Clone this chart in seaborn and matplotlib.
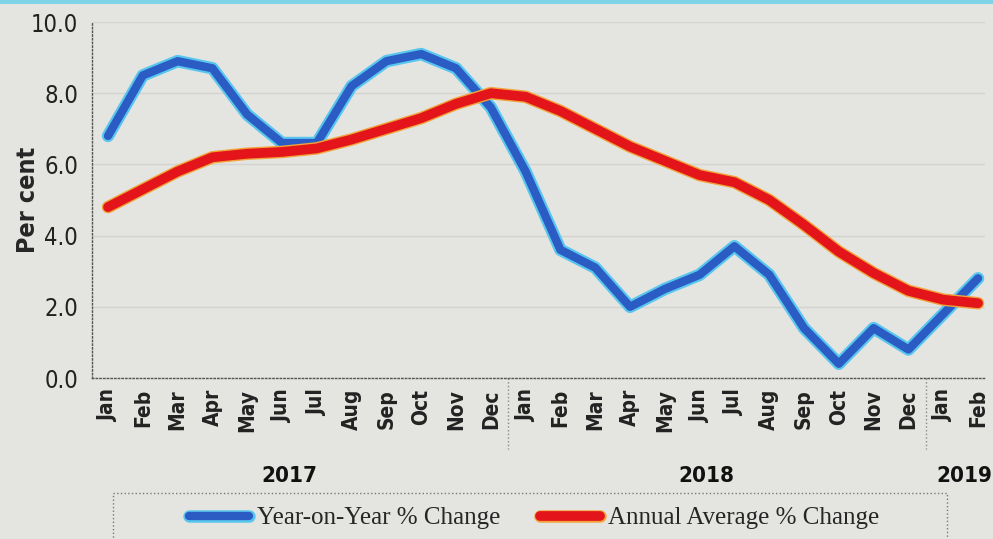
import numpy as np
import pandas as pd
import seaborn as sns
import matplotlib.pyplot as plt
import matplotlib.patheffects as pe
from matplotlib.patches import Rectangle

months = ["Jan", "Feb", "Mar", "Apr", "May", "Jun", "Jul", "Aug", "Sep", "Oct", "Nov", "Dec",
          "Jan", "Feb", "Mar", "Apr", "May", "Jun", "Jul", "Aug", "Sep", "Oct", "Nov", "Dec",
          "Jan", "Feb"]
years = ["2017", "2018", "2019"]
yoy = [6.8, 8.5, 8.9, 8.7, 7.4, 6.6, 6.6, 8.2, 8.9, 9.1, 8.7, 7.6,
       5.8, 3.6, 3.1, 2.0, 2.5, 2.9, 3.7, 2.9, 1.4, 0.4, 1.4, 0.8,
       1.8, 2.8]
annual = [4.8, 5.3, 5.8, 6.2, 6.3, 6.35, 6.45, 6.7, 7.0, 7.3, 7.7, 8.0,
          7.9, 7.5, 7.0, 6.5, 6.1, 5.7, 5.5, 5.0, 4.3, 3.55, 2.95, 2.45,
          2.2, 2.1]

df = pd.DataFrame({"idx": np.arange(len(months)), "yoy": yoy, "annual": annual})

bg = "#e4e4e0"
sns.set_style("white")
plt.rcParams["font.family"] = ["DejaVu Sans"]
plt.rcParams["font.stretch"] = "condensed"

fig = plt.figure(figsize=(9.93, 5.39), dpi=100, facecolor=bg)
ax = fig.add_axes([92 / 993, 1 - 378 / 539, (985 - 92) / 993, (378 - 22) / 539])
ax.set_facecolor(bg)

blue_fx = [pe.Stroke(linewidth=9, foreground="#58c6ee"), pe.Normal()]
red_fx = [pe.Stroke(linewidth=9, foreground="#f2a33a"), pe.Normal()]
sns.lineplot(data=df, x="idx", y="yoy", ax=ax, color="#2a5cc4", lw=6, path_effects=blue_fx)
sns.lineplot(data=df, x="idx", y="annual", ax=ax, color="#e3141a", lw=7, path_effects=red_fx)

ax.set_xlim(-0.46, 25.2)
ax.set_ylim(0, 10)
ax.set_yticks(np.arange(0, 10.1, 2))
ax.set_yticklabels([f"{v:.1f}" for v in np.arange(0, 10.1, 2)], fontsize=17, color="#222222",
                   fontstretch="condensed")
ax.yaxis.grid(True, color="#d3d3cf", lw=1)
ax.set_axisbelow(True)
ax.set_xticks(df["idx"])
ax.set_xticklabels(months, rotation=90, fontsize=15, fontweight="bold", color="#222222",
                   fontstretch="condensed")
ax.tick_params(axis="x", length=0, pad=8)
ax.tick_params(axis="y", length=0, pad=10)
ax.set_xlabel("")
ax.set_ylabel("Per cent", fontsize=18, fontweight="bold", fontstretch="condensed")
ax.yaxis.set_label_coords(-0.058, 0.5)

for s in ["top", "right"]:
    ax.spines[s].set_visible(False)
for s in ["left", "bottom"]:
    ax.spines[s].set_linestyle(":")
    ax.spines[s].set_color("#555555")
    ax.spines[s].set_linewidth(1)

# year separators and labels
for xs in [11.5, 23.5]:
    ax.plot([xs, xs], [0, -2.0], color="#888888", lw=1, ls=":", clip_on=False)
for label, xc in zip(years, [5.2, 17.2, 24.6]):
    ax.text(xc, -2.75, label, ha="center", va="center", fontsize=16, fontweight="bold",
            color="#111111", fontstretch="condensed")

# legend
fig.patches.append(Rectangle((113 / 993, -0.05), (947 - 113) / 993, 1 - 493 / 539 + 0.05,
                             transform=fig.transFigure, fill=False, ls=":", ec="#777777", lw=1))
h1 = plt.Line2D([], [], color="#2a5cc4", lw=6, path_effects=blue_fx)
h2 = plt.Line2D([], [], color="#e3141a", lw=7, path_effects=red_fx)
fig.legend([h1, h2], ["Year-on-Year % Change", "Annual Average % Change"],
           loc="center", bbox_to_anchor=(534 / 993, 1 - 518 / 539), ncol=2, frameon=False,
           prop={"family": "Liberation Serif", "size": 18}, handlelength=2.4,
           columnspacing=1.6, handletextpad=0.3)

# thin cyan strip on top edge
fig.patches.append(Rectangle((0, 1 - 4 / 539), 1, 4 / 539, transform=fig.transFigure,
                             color="#7fd3e6", lw=0))

fig.savefig("out.png", dpi=100, facecolor=bg)
